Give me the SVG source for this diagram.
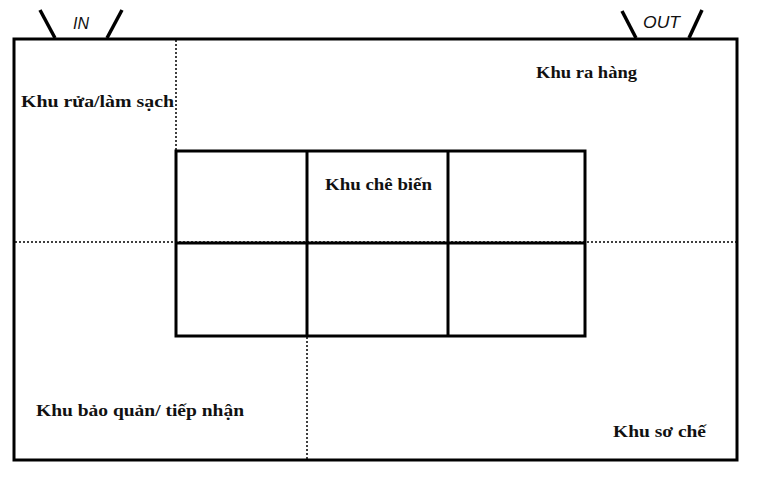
<svg xmlns="http://www.w3.org/2000/svg" width="757" height="477" viewBox="0 0 757 477">
<style>
.frame{fill:none;stroke:#000;stroke-width:3}
.door{stroke:#000;stroke-width:3.5;stroke-linecap:butt}
.dot{stroke:#000;stroke-width:1.5;stroke-dasharray:2 2;fill:none}
.cell{fill:none;stroke:#000;stroke-width:3}
.lbl{font-family:"Liberation Serif","DejaVu Serif",serif;font-weight:bold;font-size:17px;fill:#111}
.io{font-family:"Liberation Sans",Arial,sans-serif;font-style:italic;font-size:16px;fill:#111}
</style>
<rect width="757" height="477" fill="#fff"/>
<g id="room">
<rect class="frame" x="14" y="39" width="723" height="421"/>
</g>
<g id="connectors">
<line class="dot" x1="176" y1="40" x2="176" y2="151"/>
<line class="dot" x1="15" y1="242" x2="737" y2="242"/>
<line class="dot" x1="307" y1="337" x2="307" y2="459"/>
</g>
<g id="door-in">
<line class="door" x1="40" y1="10" x2="55" y2="38"/>
<line class="door" x1="122" y1="10" x2="107" y2="38"/>
<text class="io" x="73" y="29">IN</text>
</g>
<g id="door-out">
<line class="door" x1="622" y1="11" x2="636" y2="38"/>
<line class="door" x1="702" y1="10" x2="689" y2="38"/>
<text class="io" x="643" y="28" textLength="37" lengthAdjust="spacingAndGlyphs">OUT</text>
</g>
<g id="processing-grid">
<rect class="cell" x="176" y="151" width="409" height="185"/>
<line class="cell" x1="176" y1="243" x2="585" y2="243"/>
<line class="cell" x1="307" y1="151" x2="307" y2="336"/>
<line class="cell" x1="448" y1="151" x2="448" y2="336"/>
</g>
<g id="zone-wash"><text class="lbl" x="21" y="107" textLength="153" lengthAdjust="spacingAndGlyphs">Khu rửa/làm sạch</text></g>
<g id="zone-out"><text class="lbl" x="536" y="78" textLength="101" lengthAdjust="spacingAndGlyphs">Khu ra hàng</text></g>
<g id="zone-process"><text class="lbl" x="325" y="190" textLength="107" lengthAdjust="spacingAndGlyphs">Khu chê biến</text></g>
<g id="zone-storage"><text class="lbl" x="36" y="416" textLength="208" lengthAdjust="spacingAndGlyphs">Khu bảo quản/ tiếp nhận</text></g>
<g id="zone-prep"><text class="lbl" x="613" y="437" textLength="93" lengthAdjust="spacingAndGlyphs">Khu sơ chế</text></g>
</svg>
